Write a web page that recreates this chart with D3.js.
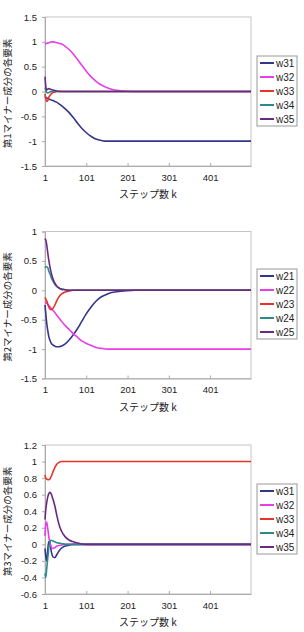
<!DOCTYPE html>
<html>
<head>
<meta charset="utf-8">
<script src="https://cdn.jsdelivr.net/npm/d3@7"></script>
<style>
  html, body { margin: 0; padding: 0; background: #fff; }
  svg { display: block; }
  .tick text, .legend text { font-family: "Liberation Sans", Arial, sans-serif; fill: #222; }
  .jp { font-family: "Noto Sans CJK JP", sans-serif; fill: #222; }
</style>
</head>
<body>
<div id="chart"></div>
<script>
// step numbers k (sampled, denser at the start)
const STEPS = [1, 3, 5, 8, 10, 13, 16, 20, 25, 30, 35, 40, 50, 60, 70, 80, 90, 100,
  110, 120, 130, 140, 150, 160, 170, 180, 190, 200, 220, 250, 300, 400, 500];

const X_TICKS = [1, 101, 201, 301, 401];
const X_TITLE = "ステップ数 k";

// panel 1: 第1マイナー成分
const P1_NAMES = ["w31", "w32", "w33", "w34", "w35"];
const P1_W31 = [-0.1, -0.12, -0.13, -0.14, -0.15, -0.16, -0.17, -0.18, -0.2, -0.22, -0.25, -0.28, -0.35, -0.43, -0.53, -0.64, -0.74, -0.82, -0.89, -0.94, -0.97, -0.99, -1, -1, -1, -1, -1, -1, -1, -1, -1, -1, -1];
const P1_W32 = [0.95, 0.96, 0.97, 0.98, 0.98, 0.99, 1, 1, 0.99, 0.98, 0.97, 0.96, 0.91, 0.84, 0.75, 0.64, 0.53, 0.42, 0.32, 0.24, 0.17, 0.12, 0.08, 0.05, 0.03, 0.02, 0.01, 0.005, 0, 0, 0, 0, 0];
const P1_W33 = [-0.05, -0.15, -0.2, -0.18, -0.12, -0.08, -0.05, -0.02, -0.01, 0, 0, 0, 0, 0, 0, 0, 0, 0, 0, 0, 0, 0, 0, 0, 0, 0, 0, 0, 0, 0, 0, 0, 0];
const P1_W34 = [0.08, 0.03, -0.02, -0.03, -0.02, -0.01, 0, 0, 0, 0, 0, 0, 0, 0, 0, 0, 0, 0, 0, 0, 0, 0, 0, 0, 0, 0, 0, 0, 0, 0, 0, 0, 0];
const P1_W35 = [0.3, 0.1, 0.03, 0.05, 0.06, 0.05, 0.04, 0.03, 0.02, 0.01, 0.005, 0, 0, 0, 0, 0, 0, 0, 0, 0, 0, 0, 0, 0, 0, 0, 0, 0, 0, 0, 0, 0, 0];
const P1_Y_TICKS = [-1.5, -1, -0.5, 0, 0.5, 1, 1.5];

// panel 2: 第2マイナー成分
const P2_NAMES = ["w21", "w22", "w23", "w24", "w25"];
const P2_W21 = [-0.25, -0.4, -0.55, -0.7, -0.78, -0.85, -0.9, -0.93, -0.95, -0.96, -0.96, -0.95, -0.91, -0.84, -0.75, -0.65, -0.53, -0.41, -0.31, -0.22, -0.15, -0.1, -0.07, -0.04, -0.03, -0.02, -0.01, -0.005, 0, 0, 0, 0, 0];
const P2_W22 = [-0.2, -0.21, -0.22, -0.24, -0.26, -0.28, -0.31, -0.34, -0.38, -0.43, -0.47, -0.52, -0.6, -0.67, -0.74, -0.8, -0.86, -0.9, -0.93, -0.96, -0.98, -0.99, -1, -1, -1, -1, -1, -1, -1, -1, -1, -1, -1];
const P2_W23 = [-0.12, -0.15, -0.18, -0.24, -0.28, -0.32, -0.33, -0.31, -0.25, -0.17, -0.11, -0.07, -0.03, -0.01, 0, 0, 0, 0, 0, 0, 0, 0, 0, 0, 0, 0, 0, 0, 0, 0, 0, 0, 0];
const P2_W24 = [0.38, 0.4, 0.4, 0.38, 0.33, 0.28, 0.22, 0.16, 0.1, 0.06, 0.035, 0.02, 0.01, 0, 0, 0, 0, 0, 0, 0, 0, 0, 0, 0, 0, 0, 0, 0, 0, 0, 0, 0, 0];
const P2_W25 = [0.88, 0.85, 0.78, 0.62, 0.52, 0.4, 0.3, 0.2, 0.12, 0.07, 0.04, 0.02, 0.01, 0, 0, 0, 0, 0, 0, 0, 0, 0, 0, 0, 0, 0, 0, 0, 0, 0, 0, 0, 0];
const P2_Y_TICKS = [-1.5, -1, -0.5, 0, 0.5, 1];

// panel 3: 第3マイナー成分
const P3_NAMES = ["w31", "w32", "w33", "w34", "w35"];
const P3_W31 = [-0.05, -0.15, -0.2, -0.05, 0.03, 0.02, -0.08, -0.15, -0.16, -0.12, -0.08, -0.05, -0.02, -0.01, 0, 0, 0, 0, 0, 0, 0, 0, 0, 0, 0, 0, 0, 0, 0, 0, 0, 0, 0];
const P3_W32 = [0.1, 0.25, 0.27, 0.18, 0.1, 0.02, -0.03, -0.05, -0.04, -0.02, -0.015, -0.01, 0, 0, 0, 0, 0, 0, 0, 0, 0, 0, 0, 0, 0, 0, 0, 0, 0, 0, 0, 0, 0];
const P3_W33 = [0.84, 0.8, 0.79, 0.78, 0.78, 0.79, 0.82, 0.87, 0.93, 0.97, 0.99, 1, 1, 1, 1, 1, 1, 1, 1, 1, 1, 1, 1, 1, 1, 1, 1, 1, 1, 1, 1, 1, 1];
const P3_W34 = [-0.35, -0.4, -0.3, -0.15, -0.05, 0.03, 0.05, 0.04, 0.03, 0.02, 0.015, 0.01, 0, 0, 0, 0, 0, 0, 0, 0, 0, 0, 0, 0, 0, 0, 0, 0, 0, 0, 0, 0, 0];
const P3_W35 = [0.3, 0.42, 0.5, 0.58, 0.61, 0.63, 0.61, 0.55, 0.46, 0.34, 0.24, 0.17, 0.09, 0.05, 0.03, 0.015, 0.005, 0, 0, 0, 0, 0, 0, 0, 0, 0, 0, 0, 0, 0, 0, 0, 0];
const P3_Y_TICKS = [-0.6, -0.4, -0.2, 0, 0.2, 0.4, 0.6, 0.8, 1, 1.2];

const COLORS = ["#35358a", "#e83ee8", "#e8332a", "#2a8a8a", "#6a2a82"];

const DIMENSIONS = {
  WIDTH: 304,
  HEIGHT: 632,
  PLOT_LEFT: 45,
  PLOT_RIGHT: 251,
};

const svg = d3.select("#chart")
  .append("svg")
  .attr("width", DIMENSIONS.WIDTH)
  .attr("height", DIMENSIONS.HEIGHT);

function drawPanel(opts) {
  const { top, bottom, yDomain, yTicks, names, series, yTitle, legend } = opts;
  const g = svg.append("g");

  const x = d3.scaleLinear().domain([1, 500]).range([DIMENSIONS.PLOT_LEFT, DIMENSIONS.PLOT_RIGHT]);
  const y = d3.scaleLinear().domain(yDomain).range([bottom, top]);

  // plot frame
  g.append("rect")
    .attr("x", DIMENSIONS.PLOT_LEFT)
    .attr("y", top)
    .attr("width", DIMENSIONS.PLOT_RIGHT - DIMENSIONS.PLOT_LEFT)
    .attr("height", bottom - top)
    .attr("fill", "none")
    .attr("stroke", "#c4c4c4");

  const yAxis = g.append("g")
    .attr("transform", `translate(${DIMENSIONS.PLOT_LEFT},0)`)
    .call(d3.axisLeft(y).tickValues(yTicks).tickSize(3).tickPadding(5).tickFormat((d) => String(d)));
  yAxis.select(".domain").attr("stroke", "#aaa");
  yAxis.selectAll(".tick line").attr("stroke", "#aaa");
  yAxis.selectAll(".tick text").style("font-size", "9.5px");

  const xAxis = g.append("g")
    .attr("transform", `translate(0,${bottom})`)
    .call(d3.axisBottom(x).tickValues(X_TICKS).tickSizeInner(-3).tickSizeOuter(0).tickPadding(8));
  xAxis.select(".domain").attr("stroke", "#aaa");
  xAxis.selectAll(".tick line").attr("stroke", "#aaa");
  xAxis.selectAll(".tick text").style("font-size", "9.5px");

  const line = d3.line()
    .x((d, i) => x(STEPS[i]))
    .y((d) => y(d))
    .curve(d3.curveMonotoneX);

  series.forEach((values, i) => {
    g.append("path")
      .datum(values)
      .attr("d", line)
      .attr("fill", "none")
      .attr("stroke", COLORS[i])
      .attr("stroke-width", 1.6)
      .attr("stroke-linejoin", "round");
  });

  // axis titles
  g.append("text")
    .attr("class", "jp")
    .attr("x", (DIMENSIONS.PLOT_LEFT + DIMENSIONS.PLOT_RIGHT) / 2)
    .attr("y", bottom + 32)
    .attr("text-anchor", "middle")
    .style("font-size", "10px")
    .text(X_TITLE);

  g.append("text")
    .attr("class", "jp")
    .attr("transform", `translate(11,${(top + bottom) / 2 + 2}) rotate(-90)`)
    .attr("text-anchor", "middle")
    .style("font-size", "9.5px")
    .text(yTitle);

  // legend
  const lg = g.append("g").attr("class", "legend");
  lg.append("rect")
    .attr("x", 257)
    .attr("y", legend)
    .attr("width", 40)
    .attr("height", 70)
    .attr("fill", "#fff")
    .attr("stroke", "#999");
  names.forEach((name, i) => {
    const ly = legend + 7 + i * 14;
    lg.append("line")
      .attr("x1", 260).attr("x2", 274)
      .attr("y1", ly).attr("y2", ly)
      .attr("stroke", COLORS[i])
      .attr("stroke-width", 2);
    lg.append("text")
      .attr("x", 276)
      .attr("y", ly + 3.5)
      .style("font-size", "10px")
      .text(name);
  });
}

drawPanel({
  top: 17, bottom: 166, yDomain: [-1.5, 1.5], yTicks: P1_Y_TICKS,
  names: P1_NAMES, series: [P1_W31, P1_W32, P1_W33, P1_W34, P1_W35],
  yTitle: "第1マイナー成分の各要素", legend: 56,
});

drawPanel({
  top: 231.5, bottom: 378.5, yDomain: [-1.5, 1], yTicks: P2_Y_TICKS,
  names: P2_NAMES, series: [P2_W21, P2_W22, P2_W23, P2_W24, P2_W25],
  yTitle: "第2マイナー成分の各要素", legend: 269,
});

drawPanel({
  top: 445, bottom: 594, yDomain: [-0.6, 1.2], yTicks: P3_Y_TICKS,
  names: P3_NAMES, series: [P3_W31, P3_W32, P3_W33, P3_W34, P3_W35],
  yTitle: "第3マイナー成分の各要素", legend: 484,
});
</script>
</body>
</html>
